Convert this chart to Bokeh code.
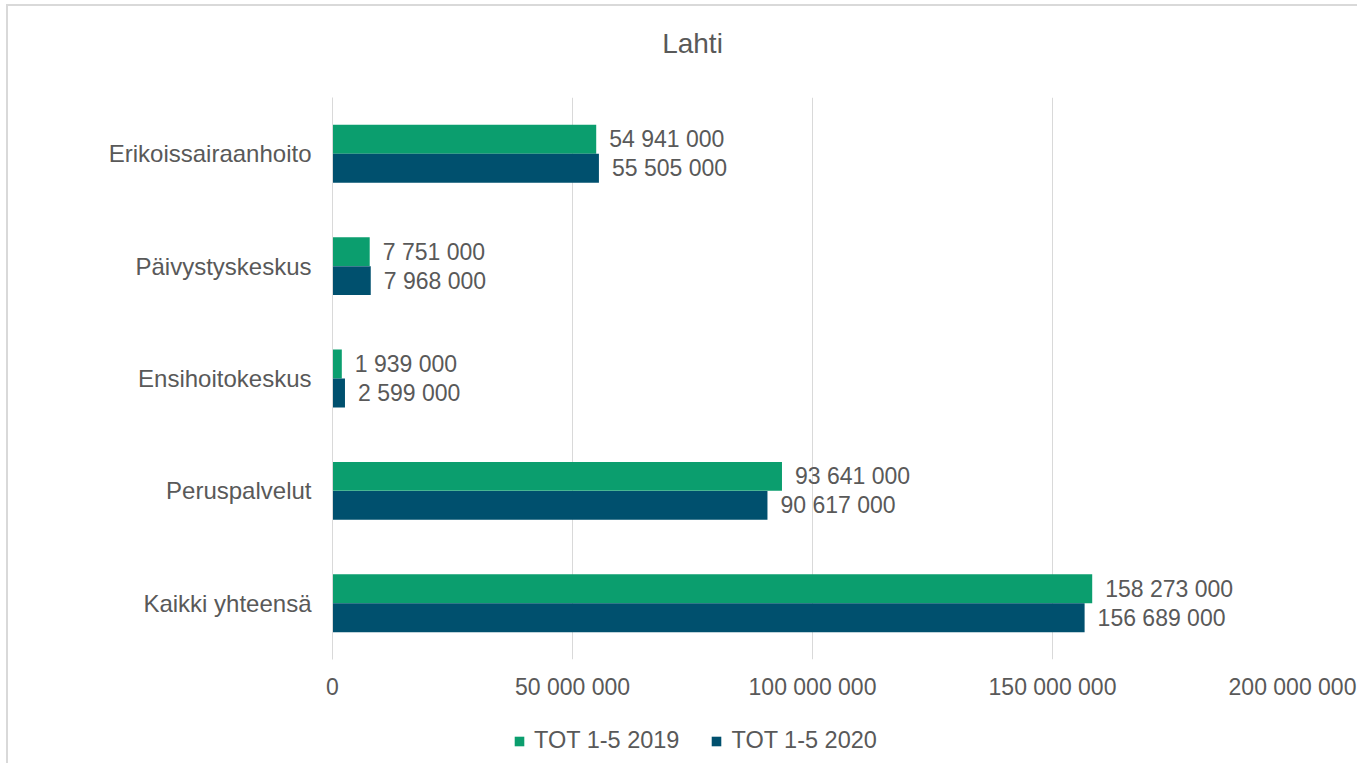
from bokeh.plotting import figure
from bokeh.layouts import column
from bokeh.models import (ColumnDataSource, FactorRange, Range1d, FixedTicker,
                          LabelSet, Label, Legend, LegendItem)
from bokeh.core.properties import value
from bokeh.transform import dodge
from bokeh.embed import file_html
from bokeh.resources import INLINE

title_text = "Lahti"
categories = ["Erikoissairaanhoito", "Päivystyskeskus", "Ensihoitokeskus",
              "Peruspalvelut", "Kaikki yhteensä"]
values_2019 = [54941000, 7751000, 1939000, 93641000, 158273000]
values_2020 = [55505000, 7968000, 2599000, 90617000, 156689000]
series_names = ["TOT 1-5 2019", "TOT 1-5 2020"]
x_ticks = [0, 50000000, 100000000, 150000000, 200000000]

GREEN = "#0B9E6E"
BLUE = "#00506E"
TEXT = "#595959"
GRID = "#D9D9D9"
FONT = "Liberation Sans"
W = 1351


def fmt(v):
    return f"{v:,}".replace(",", " ")


src = ColumnDataSource(dict(
    cat=categories,
    v19=values_2019,
    v20=values_2020,
    l19=[fmt(v) for v in values_2019],
    l20=[fmt(v) for v in values_2020],
))

xr = Range1d(0, 200000000)
side_style = {"margin-left": "6px", "border-left": "2px solid #D9D9D9"}
borders = dict(min_border_left=324, min_border_right=67)

# ---- title strip ----
tf = figure(width=W, height=56, x_range=xr, y_range=Range1d(0, 56),
            output_backend="svg", toolbar_location=None,
            min_border_top=0, min_border_bottom=0, **borders)
tf.styles = {"margin-left": "6px", "margin-top": "4px",
             "border-left": "2px solid #D9D9D9", "border-top": "2px solid #D9D9D9"}
tf.axis.visible = False
tf.grid.grid_line_color = None
tf.outline_line_color = None
tf.add_layout(Label(x=75000000, y=19, text=title_text, text_align="center",
                    text_baseline="middle", text_font=FONT, text_font_size="28px",
                    text_color=TEXT))

# ---- main chart ----
p = figure(width=W, height=653,
           y_range=FactorRange(*reversed(categories)),
           x_range=xr,
           output_backend="svg", toolbar_location=None,
           min_border_top=37, min_border_bottom=54, **borders)
p.styles = dict(side_style)
p.title.visible = False

bh = 0.2575
off = 0.129
r19 = p.hbar(y=dodge("cat", off, range=p.y_range), left=0, right="v19", height=bh,
             source=src, fill_color=GREEN, line_color=None)
r20 = p.hbar(y=dodge("cat", -off, range=p.y_range), left=0, right="v20", height=bh,
             source=src, fill_color=BLUE, line_color=None)

for field, lab, o in (("v19", "l19", off), ("v20", "l20", -off)):
    ls = LabelSet(x=field, y=dodge("cat", o, range=p.y_range), text=lab, source=src,
                  x_offset=13, text_baseline="middle", text_align="left",
                  text_font=value(FONT), text_font_size=value("23px"),
                  text_color=value(TEXT))
    p.add_layout(ls)

p.outline_line_color = None
p.ygrid.grid_line_color = None
p.xgrid.grid_line_color = GRID
p.xgrid.grid_line_width = 1

p.xaxis.ticker = FixedTicker(ticks=x_ticks)
p.xaxis.major_label_overrides = {t: fmt(t) for t in x_ticks}
p.xaxis.axis_line_color = None
p.xaxis.major_tick_line_color = None
p.xaxis.minor_tick_line_color = None
p.xaxis.major_tick_out = 0
p.xaxis.major_label_standoff = 14
p.xaxis.major_label_text_font = FONT
p.xaxis.major_label_text_font_size = "23px"
p.xaxis.major_label_text_color = TEXT

p.yaxis.axis_line_color = GRID
p.yaxis.major_tick_line_color = None
p.yaxis.minor_tick_line_color = None
p.yaxis.major_tick_out = 0
p.yaxis.major_label_standoff = 21
p.yaxis.major_label_text_font = FONT
p.yaxis.major_label_text_font_size = "24px"
p.yaxis.major_label_text_color = TEXT

# ---- legend strip ----
lg = figure(width=W, height=50, x_range=xr, y_range=Range1d(10, 11),
            output_backend="svg", toolbar_location=None,
            min_border_top=0, min_border_bottom=0, **borders)
lg.styles = dict(side_style)
lg.axis.visible = False
lg.grid.grid_line_color = None
lg.outline_line_color = None
# same series placed outside the visible y range: only their legend swatches show
d19 = lg.hbar(y=0, left=0, right="v19", height=0.5, source=src,
              fill_color=GREEN, line_color=None)
d20 = lg.hbar(y=0, left=0, right="v20", height=0.5, source=src,
              fill_color=BLUE, line_color=None)
legend = Legend(items=[LegendItem(label=series_names[0], renderers=[d19]),
                       LegendItem(label=series_names[1], renderers=[d20])],
                orientation="horizontal", location=(181, 9),
                border_line_color=None, background_fill_alpha=0,
                label_text_font=FONT, label_text_font_size="23.5px",
                label_text_color=TEXT, glyph_width=12, glyph_height=12,
                spacing=31, label_standoff=9, padding=6, margin=0)
lg.add_layout(legend)

open("out.html", "w").write(file_html(column(tf, p, lg, spacing=0), INLINE))
